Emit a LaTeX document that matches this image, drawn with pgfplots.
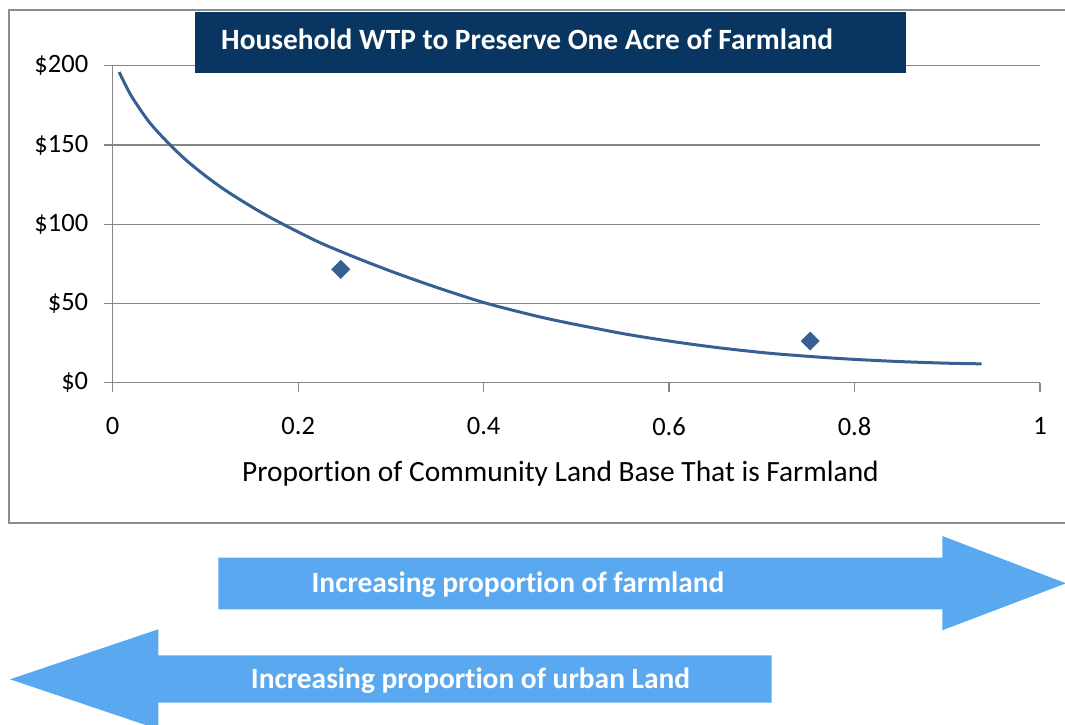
\documentclass[border=0pt]{standalone}
\usepackage{pgfplots}
\pgfplotsset{compat=1.18}
\usepackage{fontspec}
\setmainfont{Carlito}[Ligatures=NoCommon]
\definecolor{navy}{RGB}{9,54,96}
\definecolor{curvec}{RGB}{55,96,146}
\definecolor{arrowblue}{RGB}{90,169,240}
\definecolor{gridgray}{RGB}{134,134,134}
\definecolor{framegray}{RGB}{140,140,140}
\begin{document}
\begin{tikzpicture}
\useasboundingbox (0pt,0pt) rectangle (1065pt,725pt);
% outer chart frame
\draw[framegray, line width=2pt] (9pt,202.3pt) rectangle (1085pt,715pt);
\begin{axis}[
  at={(112.7pt,342.3pt)}, anchor=south west,
  scale only axis, width=927.3pt, height=317pt,
  xmin=0, xmax=1, ymin=0, ymax=200,
  axis lines*=left,
  axis line style={gridgray, line width=1.2pt, -},
  ymajorgrids, grid style={gridgray, line width=1.2pt},
  xtick={0,0.2,0.4,0.6,0.8,1},
  xticklabels={0,0.2,0.4,0.6,0.8,1},
  ytick={0,50,100,150,200},
  yticklabels={\$0,\$50,\$100,\$150,\$200},
  tick align=outside, major tick length=9pt,
  tick style={gridgray, line width=1.2pt},
  ticklabel style={font=\fontsize{26.5}{30}\selectfont, text=black},
  xticklabel style={yshift=-22pt},
  yticklabel style={xshift=-12pt},
  /pgf/number format/assume math mode=true,
  xlabel={Proportion of Community Land Base That is Farmland},
  xlabel style={font=\fontsize{29.4}{33}\selectfont,
    at={(axis description cs:0.4829,0)}, anchor=base, yshift=-99pt},
  clip=false,
]
\addplot[curvec, line width=3pt, smooth] coordinates {
  (0.007,196) (0.02,181) (0.04,164) (0.062,150) (0.08,140) (0.10,130.5)
  (0.12,122) (0.14,114.5) (0.16,107.5) (0.182,100.5) (0.22,89.3)
  (0.25,81.8) (0.28,74.8) (0.31,68.2) (0.35,60.0) (0.40,50.6) (0.45,43)
  (0.486,38.3) (0.55,31) (0.6,26.3) (0.65,22.3) (0.706,18.7) (0.76,16.2)
  (0.8,14.7) (0.85,13.3) (0.9,12.3) (0.937,11.9)
};
\addplot[only marks, mark=square*, mark size=6.5pt,
  mark options={rotate=45, fill=curvec, draw=curvec}] coordinates {
  (0.2459,71.5) (0.7522,26.3)
};
\end{axis}
% title box
\fill[navy] (195pt,652.3pt) rectangle (906pt,712.7pt);
\node[anchor=base west, inner sep=0pt, text=white,
  font=\fontsize{29.4}{33}\selectfont\bfseries] at (221pt,675pt)
  {Household WTP to Preserve One Acre of Farmland};
% right arrow
\fill[arrowblue] (218.3pt,167.3pt) -- (942.3pt,167.3pt) -- (942.3pt,189pt)
  -- (1066pt,141.7pt) -- (942.3pt,94.7pt) -- (942.3pt,115.7pt)
  -- (218.3pt,115.7pt) -- cycle;
\node[text=white, font=\fontsize{29.4}{33}\selectfont\bfseries, inner sep=0pt]
  at (518pt,140pt) {Increasing proportion of farmland};
% left arrow
\fill[arrowblue] (771.7pt,69.7pt) -- (158.3pt,69.7pt) -- (158.3pt,95.7pt)
  -- (10pt,45.7pt) -- (158.3pt,-4.3pt) -- (158.3pt,22.3pt)
  -- (771.7pt,22.3pt) -- cycle;
\node[text=white, font=\fontsize{29.4}{33}\selectfont\bfseries, inner sep=0pt]
  at (470.5pt,44pt) {Increasing proportion of urban Land};
\end{tikzpicture}
\end{document}
